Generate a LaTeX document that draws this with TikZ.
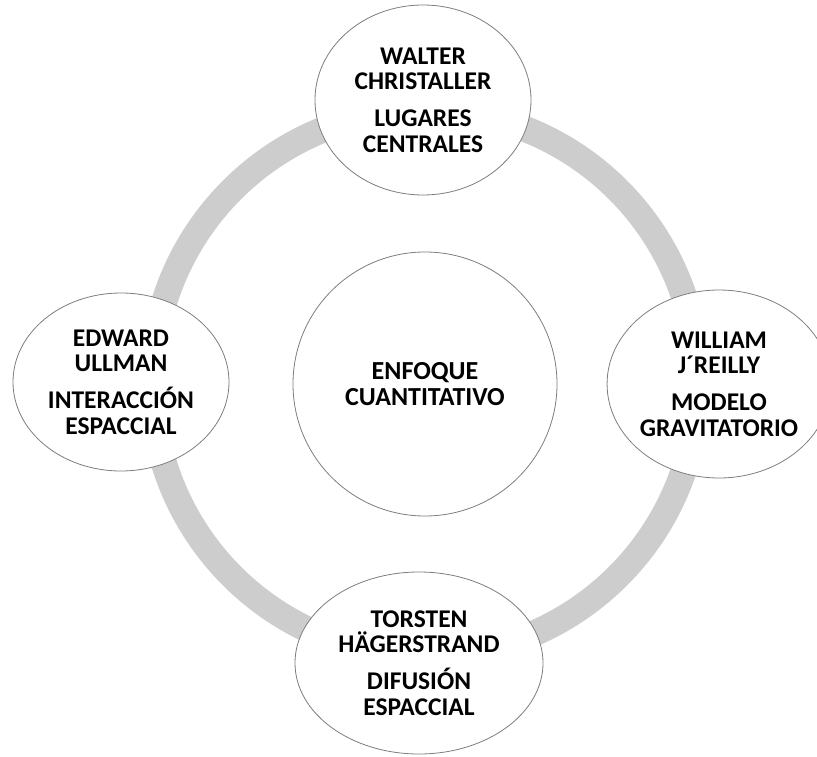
\documentclass[tikz,border=0pt]{standalone}
\usepackage{fontspec}
\setmainfont{Carlito}
\usetikzlibrary{shapes.geometric}
\definecolor{ringgray}{RGB}{205,205,205}
\definecolor{edgegray}{RGB}{125,125,125}
\tikzset{
  bubble/.style={ellipse, draw=edgegray, line width=0.8pt, fill=white, inner sep=0pt,
    align=center, font=\bfseries\fontsize{25.5}{25.5}\selectfont},
  hub/.style={circle, draw=edgegray, line width=0.8pt, fill=white, inner sep=0pt,
    align=center, font=\bfseries\fontsize{26}{26.5}\selectfont, minimum size=264pt},
  ring/.style={draw=ringgray, line width=26pt}
}
\begin{document}
\begin{tikzpicture}[x=1pt,y=-1pt]
\useasboundingbox (0,0) rectangle (817,757);
\coordinate (c) at (425,383);
\draw[ring] (c) circle[radius=273pt];
\node[hub] (center) at (425,384) {ENFOQUE\\CUANTITATIVO};
\node[bubble, minimum width=216pt, minimum height=190pt] (top) at (423,100)
  {WALTER\\CHRISTALLER\\[11.5pt]LUGARES\\CENTRALES};
\node[bubble, minimum width=198pt, minimum height=188pt] (right) at (719,384)
  {WILLIAM\\J´REILLY\\[11.5pt]MODELO\\GRAVITATORIO};
\node[bubble, minimum width=216pt, minimum height=178pt] (left) at (121,382)
  {EDWARD\\ULLMAN\\[11.5pt]INTERACCIÓN\\ESPACCIAL};
\node[bubble, minimum width=248pt, minimum height=182pt] (bottom) at (419,663)
  {TORSTEN\\HÄGERSTRAND\\[11.5pt]DIFUSIÓN\\ESPACCIAL};
\end{tikzpicture}
\end{document}
